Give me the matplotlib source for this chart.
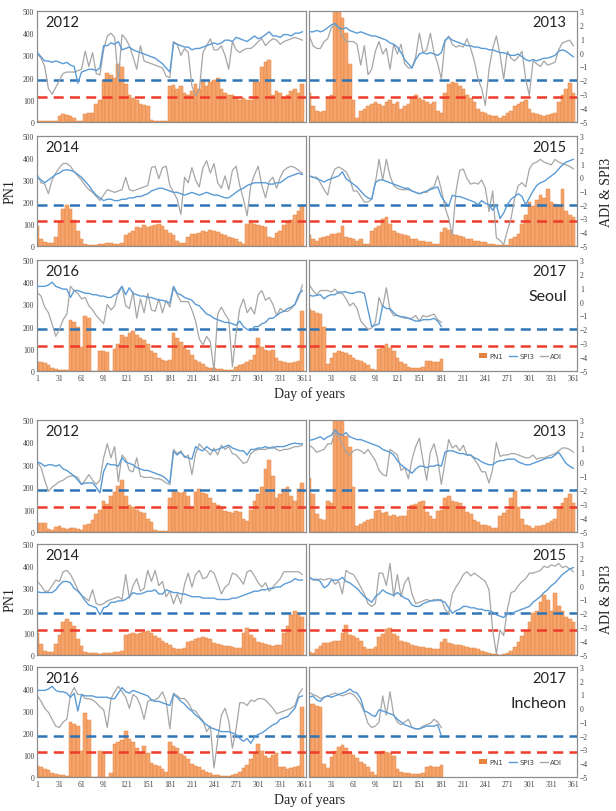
import numpy as np
import matplotlib.pyplot as plt
from matplotlib.patches import Patch
from matplotlib.lines import Line2D

# daily series every 5 days (day 1, 6, 11, ... 361)
days = np.arange(1, 366, 5)
xticks = list(range(1, 362, 30))
years = ['2012', '2013', '2014', '2015', '2016', '2017']

# ---------------- Seoul ----------------
seoul_2012_pn1 = [5, 5, 5, 3, 3, 5, 25, 35, 32, 28,
                  20, 5, 3, 35, 40, 40, 80, 100, 190, 220,
                  210, 200, 260, 250, 170, 120, 110, 100, 80, 75,
                  70, 10, 5, 3, 5, 3, 160, 165, 150, 160,
                  130, 120, 140, 170, 150, 190, 160, 180, 190, 200,
                  150, 130, 120, 120, 110, 100, 110, 100, 100, 190,
                  180, 250, 270, 280, 120, 140, 130, 110, 120, 140,
                  150, 130, 170]
seoul_2012_spi3 = [0.0, -0.3, -0.6, -0.6, -0.7, -0.6, -0.7, -0.8, -0.7, -0.9,
                   -1.0, -2.2, -1.4, -1.3, -1.2, -1.2, -1.3, -1.1, 0.5, 0.5,
                   0.7, 0.6, 0.8, 0.2, 0.3, 0.4, 0.2, 0.1, 0.0, -0.1,
                   -0.2, -0.3, -0.4, -0.6, -0.8, -1.1, -1.4, 0.7, 0.6, 0.5,
                   0.4, 0.4, 0.2, 0.3, 0.3, 0.4, 0.5, 0.6, 0.7, 0.6,
                   0.7, 0.9, 0.9, 0.8, 1.1, 1.0, 0.9, 0.8, 1.0, 1.2,
                   1.0, 1.1, 1.3, 1.5, 1.2, 1.2, 1.1, 1.3, 1.3, 1.2,
                   1.4, 1.4, 1.5]
seoul_2012_adi = [-0.1, -0.4, -1.0, -2.6, -3.0, -2.5, -2.0, -1.5, -1.4, -1.4,
                  -1.4, -1.3, -1.2, 0.1, -1.0, 0.0, -1.5, -1.6, 0.2, 1.2,
                  1.4, 1.1, -2.0, 1.3, 1.0, 0.5, -0.3, -1.2, 0.5, -0.6,
                  -0.7, -0.8, -0.9, -1.0, -1.1, -1.7, -1.8, 0.8, 0.6, -0.2,
                  0.3, 0.0, -2.4, -3.1, -2.7, 0.0, 0.5, 1.0, 0.2, 0.2,
                  0.5, -0.2, -1.2, 0.8, 0.2, 0.0, 0.2, 0.3, 0.3, 0.5,
                  0.8, 1.0, 0.5, 0.8, 1.0, 0.9, 0.6, 0.8, 0.9, 1.0,
                  1.1, 1.0, 0.9]

seoul_2013_pn1 = [130, 70, 50, 45, 50, 110, 120, 500, 500, 470,
                  400, 260, 100, 20, 50, 60, 70, 80, 90, 80,
                  70, 90, 100, 80, 90, 60, 70, 80, 110, 120,
                  110, 100, 90, 80, 90, 50, 40, 130, 170, 180,
                  175, 160, 150, 120, 110, 90, 60, 45, 40, 30,
                  25, 25, 20, 25, 40, 50, 70, 80, 90, 100,
                  60, 40, 35, 30, 25, 30, 35, 40, 90, 120,
                  150, 175, 130]
seoul_2013_spi3 = [1.5, 1.5, 1.6, 1.5, 1.6, 1.8, 2.0, 2.1, 1.8, 1.7,
                   1.8, 1.6, 1.5, 1.4, 1.5, 1.4, 1.3, 1.2, 1.2, 1.1,
                   1.0, 0.9, 0.7, 0.6, 0.4, 0.0, -0.5, -0.8, -1.1, -0.5,
                   -0.1, 0.0, -0.1, 0.0, -0.1, -0.2, 0.0, 0.9, 1.1, 0.9,
                   0.8, 0.7, 0.6, 0.5, 0.5, 0.4, 0.4, 0.3, 0.3, 0.2,
                   0.2, 0.1, 0.0, 0.0, -0.1, -0.2, -0.2, -0.1, -0.3, -0.5,
                   -0.6, -0.5, -0.6, -0.5, -0.4, -0.4, -0.3, -0.2, 0.1, 0.2,
                   0.1, -0.1, -0.3]
seoul_2013_adi = [1.2, 0.5, 0.3, 0.3, 0.8, 1.0, 1.8, 2.0, 1.8, 1.2,
                  0.8, 0.8, 0.8, 0.6, -0.9, 0.5, -1.6, -1.2, 0.1, 0.8,
                  -0.1, 0.3, -1.2, 0.6, -0.1, 0.6, -0.8, -1.1, -1.1, -0.3,
                  1.4, 0.0, 0.2, 1.4, 0.0, -0.8, -1.9, 0.8, 1.2, 0.6,
                  0.4, 0.5, 0.4, 1.0, 0.3, -0.6, -1.9, -2.6, -3.8, -1.2,
                  0.3, 1.2, -0.1, -1.9, 0.1, -0.4, -0.6, -0.3, 0.1, -1.9,
                  -3.1, -0.6, -0.8, -1.0, -0.6, -0.9, -0.8, -0.7, 0.2, 0.7,
                  0.8, 0.9, 0.5]

seoul_2014_pn1 = [90, 30, 20, 15, 15, 40, 110, 170, 185, 170,
                  120, 70, 30, 10, 5, 5, 5, 10, 10, 15,
                  15, 10, 10, 15, 50, 60, 70, 85, 80, 95,
                  85, 90, 95, 100, 90, 75, 60, 50, 25, 15,
                  15, 40, 55, 55, 60, 70, 65, 75, 70, 65,
                  55, 50, 40, 35, 30, 20, 10, 100, 105, 100,
                  95, 90, 85, 40, 35, 60, 70, 95, 110, 120,
                  140, 160, 180]
seoul_2014_spi3 = [0.0, -0.2, -0.4, -0.2, 0.0, 0.2, 0.3, 0.5, 0.55, 0.5,
                   0.4, 0.2, 0.0, -0.3, -0.6, -1.0, -1.3, -1.5, -1.7, -1.6,
                   -1.6, -1.7, -1.7, -1.6, -1.6, -1.5, -1.5, -1.4, -1.4, -1.3,
                   -1.2, -1.0, -0.9, -0.8, -0.8, -0.9, -1.0, -1.1, -1.1, -1.2,
                   -1.3, -1.2, -1.1, -1.2, -1.3, -1.2, -1.1, -1.2, -1.3, -1.3,
                   -1.4, -1.5, -1.5, -1.3, -1.1, -0.9, -0.8, -0.6, -0.5, -0.4,
                   -0.4, -0.4, -0.4, -0.5, -0.5, -0.4, -0.4, -0.2, 0.0, 0.1,
                   0.2, 0.3, 0.2]
seoul_2014_adi = [0.2, -0.4, -0.5, -1.2, -0.2, 0.3, 0.7, 1.0, 1.0, 0.8,
                  0.4, 0.1, -0.2, -0.6, -0.9, -1.1, -1.4, -1.7, -1.3, -0.9,
                  -1.0, -1.1, -1.0, -0.9, 0.0, -0.9, -1.0, -0.9, -0.8, -0.7,
                  -0.6, 0.7, 0.8, -0.1, 0.7, 0.8, -0.6, -1.1, -1.6, -2.7,
                  0.0, -0.4, 0.7, -0.2, -0.7, 0.7, 1.2, 0.3, 1.0, -0.4,
                  -0.8, 0.1, -0.9, 0.5, 0.8, -0.6, -1.6, -2.8, -0.6, 0.2,
                  0.8, -0.6, -1.5, -0.3, 0.0, -0.8, 0.0, 0.5, 0.7, 0.8,
                  0.7, 0.5, 0.3]

seoul_2015_pn1 = [50, 30, 25, 35, 40, 45, 55, 55, 60, 90,
                  40, 35, 30, 25, 30, 10, 8, 70, 80, 90,
                  125, 130, 100, 70, 60, 55, 50, 45, 30, 30,
                  25, 25, 20, 20, 10, 8, 65, 80, 75, 55,
                  50, 45, 40, 30, 30, 25, 25, 20, 20, 10,
                  10, 5, 5, 3, 3, 30, 40, 55, 100, 140,
                  200, 180, 210, 230, 220, 260, 200, 190, 180, 260,
                  160, 140, 130]
seoul_2015_spi3 = [0.1, 0.0, -0.1, -0.2, -0.35, -0.2, -0.1, 0.0, 0.1, 0.4,
                   -0.1, -0.3, -0.5, -0.7, -1.0, -1.3, -1.5, -1.6, -0.4, -0.2,
                   -0.2, -0.3, -0.4, -0.5, -0.6, -0.7, -0.8, -0.8, -1.0, -1.1,
                   -1.2, -1.1, -1.0, -0.9, -0.8, -0.7, -1.4, -1.8, -2.1, -1.3,
                   -1.4, -1.4, -1.5, -1.6, -1.7, -1.8, -2.0, -1.7, -1.9, -2.0,
                   -2.4, -2.0, -3.0, -2.6, -2.0, -1.6, -1.4, -1.2, -1.4, -2.0,
                   -1.5, -1.0, -0.6, -0.4, -0.3, -0.1, 0.1, 0.3, 0.6, 0.9,
                   1.1, 1.2, 1.3]
seoul_2015_adi = [0.1, 0.0, 0.0, -0.4, -0.9, -1.3, 0.0, 0.6, 0.75, 0.6,
                  0.4, -0.1, -1.0, -1.0, -1.4, -1.8, -1.8, -1.6, -0.4, 1.3,
                  -0.2, 1.3, 0.1, -0.6, -0.8, -0.9, -0.9, -0.9, -1.0, -1.1,
                  -1.2, -1.1, -1.1, -0.8, -0.7, 0.1, -0.9, -2.2, -3.0, -4.2,
                  -1.0, 0.5, 0.6, -0.1, -0.5, -0.4, -0.5, -0.2, -0.8, -2.5,
                  -1.0, -4.4, -4.6, -4.9, -3.9, -3.0, -1.5, -0.6, -0.4, -0.7,
                  0.6, 1.0, 1.1, 1.3, 1.1, 1.0, 0.9, 1.3, 1.1, 1.0,
                  0.9, 0.8, 0.6]

seoul_2016_pn1 = [40, 40, 35, 25, 15, 10, 5, 3, 3, 230,
                  220, 200, 110, 250, 240, 0, 0, 90, 90, 85,
                  0, 100, 120, 160, 155, 170, 180, 160, 150, 140,
                  120, 90, 80, 60, 50, 45, 50, 170, 150, 130,
                  110, 95, 70, 50, 40, 30, 20, 15, 15, 10,
                  10, 5, 5, 3, 20, 25, 30, 40, 50, 70,
                  150, 110, 95, 90, 95, 60, 45, 40, 35, 35,
                  40, 45, 270]
seoul_2016_spi3 = [1.1, 1.1, 1.1, 1.2, 1.4, 1.1, 1.0, 0.9, 0.9, 0.3,
                   0.8, 0.8, 0.7, 0.6, 0.6, 0.5, 0.5, 0.4, 0.4, 0.3,
                   0.3, 0.5, 0.6, 1.1, 0.5, 1.0, 0.6, 0.5, 0.4, 0.4,
                   0.3, 0.3, 0.2, 0.1, 0.1, 0.0, -0.1, 1.1, 0.6, 0.5,
                   0.3, 0.2, 0.1, -0.2, -0.3, -0.6, -0.9, -1.0, -1.2, -1.3,
                   -1.4, -1.5, -1.5, -1.6, -1.7, -1.4, -1.8, -2.0, -2.1, -1.8,
                   -1.8, -1.6, -1.5, -1.2, -1.2, -1.0, -0.8, -0.7, -0.5, -0.4,
                   -0.2, 0.5, 0.8]
seoul_2016_adi = [0.65, 0.4, -0.4, -0.8, -1.6, -2.5, -2.0, -1.3, -0.9, 1.1,
                  0.8, 0.6, 0.2, 0.3, -0.3, -0.6, -1.0, -1.3, -1.6, -0.2,
                  -0.6, -0.3, 0.8, 1.1, -0.3, -0.5, 0.7, -1.2, 0.2, -0.8,
                  0.6, -0.6, -0.7, 0.2, -0.8, 0.1, -0.4, 1.0, 0.5, 0.0,
                  0.0, 0.0, -0.6, -1.4, -2.7, -3.1, -2.5, -2.9, -5.0, -0.9,
                  -0.4, -0.9, -1.3, -4.7, -2.3, -0.5, 0.2, -0.8, -0.4, -0.9,
                  0.5, 0.8, 0.1, 0.3, -0.2, -1.0, -0.5, -0.7, -0.7, -0.5,
                  -0.2, 0.3, 1.2]

seoul_2017_pn1 = [280, 270, 260, 255, 200, 30, 60, 80, 90, 85,
                  80, 70, 60, 50, 45, 35, 25, 10, 5, 100,
                  110, 120, 105, 90, 60, 40, 30, 20, 15, 15,
                  15, 20, 45, 45, 40, 40, 55]
seoul_2017_spi3 = [0.45, 0.4, 0.45, 0.5, 0.2, 0.4, 0.5, 0.5, 0.7, 0.7,
                   0.7, 0.6, 0.6, 0.7, 0.7, 0.6, -0.6, -1.8, -1.7, -1.6,
                   -0.3, -0.5, -0.5, -0.8, -1.0, -1.1, -1.1, -1.2, -1.3, -1.4,
                   -1.4, -1.3, -1.3, -1.3, -1.2, -1.4, -1.8]
seoul_2017_adi = [1.2, 0.8, 0.5, 0.8, 0.8, 0.8, 0.7, 0.9, 0.6, 0.6,
                  0.2, -0.3, -0.1, -0.5, -1.4, -1.7, -2.0, -1.9, -1.5, 0.3,
                  -0.4, 1.0, -0.6, -1.0, -1.0, -1.1, -1.2, -1.2, -1.2, -1.0,
                  -1.4, -1.0, -1.1, -1.0, -0.9, -1.3, -1.5]

# ---------------- Incheon ----------------
incheon_2012_pn1 = [40, 40, 38, 15, 10, 22, 25, 20, 15, 18,
                    20, 12, 8, 30, 35, 55, 80, 100, 140, 125,
                    160, 180, 205, 230, 160, 120, 110, 100, 90, 85,
                    60, 45, 10, 5, 3, 3, 150, 185, 180, 175,
                    180, 160, 110, 180, 190, 175, 170, 150, 130, 120,
                    110, 95, 90, 85, 95, 90, 60, 50, 100, 140,
                    170, 200, 280, 320, 250, 150, 170, 190, 200, 160,
                    140, 190, 220]
incheon_2012_spi3 = [0.0, -0.1, -0.3, -0.2, -0.2, -0.3, -0.2, -0.5, -0.6, -0.8,
                     -1.0, -1.3, -1.6, -1.5, -1.5, -1.5, -1.8, -2.2, -0.7, -0.1,
                     -0.2, -0.2, -0.3, 0.3, 0.0, -0.1, -0.2, -0.4, -0.5, -0.6,
                     -0.6, -0.7, -0.8, -0.9, -1.0, -1.2, -1.5, 0.75, 0.5, 0.7,
                     0.4, 0.3, 0.2, 1.1, 0.9, 0.8, 1.1, 0.9, 0.8, 0.9,
                     1.0, 1.1, 1.2, 1.0, 0.9, 0.8, 0.8, 0.5, 0.9, 0.9,
                     1.0, 1.0, 1.1, 1.0, 1.0, 1.1, 1.1, 1.1, 1.2, 1.3,
                     1.35, 1.3, 1.3]
incheon_2012_adi = [0.0, -0.4, -1.3, -2.1, -1.8, -1.6, -1.4, -1.3, -1.1, -1.0,
                    -1.0, -1.1, -1.6, -1.3, -0.9, -1.3, -1.6, -1.3, 0.3, 1.3,
                    0.3, 1.1, -1.4, 0.5, 0.2, -0.6, -0.7, 0.3, -1.0, -1.1,
                    -1.1, -1.1, -1.2, -1.2, -1.3, -1.5, -1.6, 0.9, 0.6, 0.8,
                    0.3, 0.5, -0.9, 0.6, 1.3, 1.0, 0.8, 0.5, 1.0, 0.5,
                    1.2, 0.9, 1.1, 0.6, 0.5, 0.2, -0.1, 0.0, 0.6, 0.8,
                    0.9, 0.9, 0.9, 1.0, 1.1, 0.9, 0.8, 0.9, 0.9, 1.0,
                    1.1, 1.1, 1.2]

incheon_2013_pn1 = [240, 170, 80, 60, 55, 140, 130, 500, 500, 500,
                    430, 380, 200, 25, 35, 45, 55, 60, 95, 100,
                    85, 90, 70, 75, 65, 70, 70, 100, 120, 125,
                    135, 140, 90, 70, 60, 95, 100, 150, 160, 140,
                    135, 130, 110, 90, 80, 55, 45, 30, 30, 25,
                    20, 20, 70, 85, 100, 150, 185, 110, 60, 30,
                    25, 20, 25, 25, 30, 40, 50, 60, 110, 130,
                    150, 170, 130]
incheon_2013_spi3 = [1.55, 1.6, 1.7, 1.8, 1.6, 1.8, 1.9, 2.3, 2.0, 1.9,
                     2.1, 1.8, 1.7, 1.6, 1.6, 1.5, 1.4, 1.3, 1.2, 1.1,
                     0.9, 0.8, 0.7, 0.5, 0.1, -0.2, -0.4, -0.6, -0.8, -0.5,
                     -0.3, -0.3, -0.4, -0.3, -0.3, -0.2, -0.3, 0.7, 0.8, 0.8,
                     0.7, 0.6, 0.6, 0.5, 0.5, 0.3, 0.2, 0.0, -0.1, -0.2,
                     -0.2, 0.0, 0.1, 0.1, 0.2, 0.2, 0.2, 0.0, -0.1, -0.2,
                     -0.2, -0.1, 0.0, 0.1, 0.2, 0.3, 0.3, 0.5, 0.7, 0.3,
                     -0.1, -0.3, -0.45]
incheon_2013_adi = [1.2, 1.0, 0.7, 0.8, 0.9, 1.3, 1.3, 2.1, 1.8, 1.3,
                    0.7, 0.5, 0.8, 0.9, 0.8, 0.6, 0.9, 0.5, 0.1, -0.6,
                    -0.9, -1.0, 0.9, 0.7, 0.5, -0.6, -0.4, -1.2, 0.2, 1.1,
                    1.7, 0.1, -1.3, 0.7, 1.3, 0.2, -1.6, 0.0, 1.6, 1.0,
                    1.2, 0.8, 1.2, 0.5, 0.5, 0.2, -0.2, -0.7, -0.7, -1.5,
                    -0.5, 1.4, 0.4, 0.5, 0.5, 0.6, 0.6, 0.5, 0.4, 0.3,
                    0.3, 0.5, 0.2, 0.3, 0.3, 0.4, 0.5, 0.6, 0.8, 1.0,
                    1.0, 0.9, 0.7]

incheon_2014_pn1 = [100, 50, 20, 15, 15, 50, 90, 150, 160, 150,
                    130, 70, 40, 15, 10, 8, 8, 5, 10, 10,
                    8, 12, 15, 20, 90, 95, 100, 95, 100, 105,
                    110, 100, 85, 75, 65, 55, 45, 30, 25, 25,
                    30, 60, 65, 70, 75, 80, 75, 70, 55, 50,
                    45, 40, 40, 35, 30, 30, 100, 120, 90, 75,
                    60, 55, 50, 45, 40, 45, 45, 100, 130, 180,
                    200, 190, 170]
incheon_2014_spi3 = [-0.45, -0.5, -0.5, -0.5, -0.5, -0.3, 0.05, 0.3, 0.3, 0.2,
                     -0.2, -0.4, -0.7, -1.1, -1.4, -1.5, -1.6, -2.1, -1.6, -1.5,
                     -1.2, -1.2, -1.1, -1.1, -1.0, -0.8, -0.5, -0.6, -0.6, -0.5,
                     -0.4, -0.4, -0.3, -0.6, -0.6, -0.3, -0.4, -0.5, -0.5, -0.6,
                     -0.6, -0.7, -0.8, -0.8, -0.8, -0.9, -0.9, -0.9, -0.9, -1.0,
                     -1.0, -1.0, -1.0, -0.9, -0.9, -0.8, -0.7, -0.6, -0.5, -0.4,
                     -0.4, -0.3, -0.3, -0.2, -0.2, -0.1, -0.1, 0.1, 0.2, 0.3,
                     0.5, 0.4, 0.4]
incheon_2014_adi = [0.3, 0.0, -0.4, -0.4, 0.0, 0.4, 0.3, 1.0, 1.1, 0.8,
                    0.3, -0.3, -0.7, -0.9, -1.1, -0.3, -1.3, -1.4, -1.3, -1.1,
                    -1.0, -0.9, -0.8, -1.0, 0.8, -0.9, 0.0, 0.5, -0.4, -0.2,
                    1.1, 0.3, 1.1, 0.0, 0.3, -0.8, -0.4, -1.3, -0.6, -1.3,
                    0.1, 0.9, -0.1, 0.8, 1.1, 0.5, 0.6, 1.1, 0.9, 0.2,
                    -0.6, -0.1, 0.1, 0.9, 0.8, 0.5, 0.1, 1.0, 1.1, 0.7,
                    0.2, -0.1, 0.2, -0.4, -0.1, 0.2, 0.5, 1.0, 1.0, 1.0,
                    1.0, 1.0, 0.8]

incheon_2015_pn1 = [15, 10, 25, 40, 55, 55, 60, 65, 65, 100,
                    135, 90, 85, 75, 65, 35, 25, 25, 35, 80,
                    95, 115, 120, 95, 85, 65, 60, 55, 45, 40,
                    35, 35, 30, 30, 25, 25, 60, 70, 55, 50,
                    45, 45, 40, 35, 30, 30, 25, 20, 15, 10,
                    5, 3, 2, 3, 8, 20, 35, 60, 85, 110,
                    150, 190, 200, 240, 270, 250, 200, 280, 220, 200,
                    170, 160, 150]
incheon_2015_spi3 = [0.55, 0.45, 0.45, 0.3, -0.15, 0.0, 0.4, 0.4, 0.4, 0.6,
                     0.3, 0.2, 0.0, -0.2, -0.5, -0.8, -1.0, -1.2, -0.8, -0.6,
                     -0.3, -0.5, -0.6, -0.7, -0.5, -0.7, -0.9, -1.0, -1.4, -1.5,
                     -1.5, -1.3, -1.2, -1.1, -1.1, -1.0, -1.1, -1.2, -1.6, -2.0,
                     -1.8, -1.7, -1.5, -1.5, -1.6, -1.6, -1.7, -1.7, -1.8, -1.8,
                     -1.9, -2.1, -2.2, -2.3, -2.0, -2.1, -1.9, -1.8, -1.7, -1.6,
                     -1.5, -1.2, -1.0, -0.8, -0.5, -0.3, 0.0, 0.2, 0.5, 0.8,
                     1.0, 1.2, 1.3]
incheon_2015_adi = [0.65, 0.4, 0.4, 0.5, 0.4, 0.5, 0.5, 0.1, 0.3, -0.6,
                    1.1, 0.9, 0.8, 0.4, -0.1, -0.6, -1.3, -1.5, -1.3, 0.9,
                    0.9, 0.0, 1.6, -0.8, 0.8, -0.8, 0.2, 0.6, -0.6, -1.3,
                    -1.2, -1.1, -1.0, -1.1, -1.0, -1.1, -1.0, -1.7, -2.0, -0.6,
                    -0.1, 0.3, 0.8, 1.0, 0.7, 0.9, 0.7, 0.5, 0.3, -0.3,
                    -3.2, -4.9, -3.2, -3.6, -1.7, -0.5, -0.4, 0.0, 0.3, 0.5,
                    0.9, 0.9, 1.0, 1.1, 1.4, 1.3, 1.5, 1.4, 1.6, 1.3,
                    1.4, 1.2, 1.0]

incheon_2016_pn1 = [50, 45, 35, 30, 20, 15, 10, 8, 5, 250,
                    240, 230, 120, 290, 260, 0, 0, 120, 115, 0,
                    20, 150, 160, 170, 210, 175, 160, 130, 110, 140,
                    110, 65, 55, 50, 35, 25, 160, 140, 130, 105,
                    95, 80, 60, 50, 45, 30, 25, 20, 10, 8,
                    5, 5, 5, 8, 12, 25, 40, 55, 80, 110,
                    150, 120, 95, 85, 100, 110, 45, 45, 35, 40,
                    45, 50, 320]
incheon_2016_spi3 = [1.3, 1.3, 1.3, 1.4, 1.6, 1.3, 1.2, 1.2, 1.1, 0.8,
                     1.1, -0.2, 1.0, 0.9, 0.9, 0.9, 0.8, 0.8, 0.8, 0.8,
                     0.7, 0.7, 1.1, 1.5, 1.2, 1.1, 1.3, 1.2, 1.1, 1.0,
                     0.9, 0.6, 0.5, 0.5, 0.4, 0.3, 0.2, 1.0, 0.8, 0.5,
                     0.3, 0.0, -0.2, -0.5, -0.7, -1.0, -1.2, -1.4, -1.5, -1.6,
                     -1.7, -1.7, -1.7, -1.8, -1.9, -2.2, -2.4, -2.2, -2.55, -2.1,
                     -1.9, -1.8, -1.6, -1.4, -1.2, -1.1, -0.8, -0.7, -0.6, -0.3,
                     0.0, 0.8, 0.9]
incheon_2016_adi = [0.9, 0.5, 0.0, -0.3, -0.8, -1.3, -1.4, -1.0, -0.8, 1.0,
                    1.5, 1.0, 1.0, 0.7, 0.7, 0.6, 0.4, 0.1, -0.1, -1.4,
                    0.7, 1.2, 1.6, 1.2, 0.8, 0.0, 1.0, 0.8, 0.2, -0.8,
                    0.5, 0.6, 0.6, 0.8, 1.2, 0.5, -1.5, 1.1, 0.9, 0.7,
                    0.7, 0.4, -0.1, -0.2, -0.6, -0.9, -1.7, -1.3, -4.35, -2.3,
                    -0.5, 0.0, -0.9, -2.9, -1.5, 0.4, 0.4, 0.2, 0.6, 0.5,
                    0.7, 0.7, 0.6, 0.3, 0.0, -0.4, -0.3, -0.2, -0.1, 0.0,
                    0.2, 1.0, 1.4]

incheon_2017_pn1 = [330, 330, 325, 320, 60, 40, 90, 120, 135, 145,
                    130, 115, 100, 85, 70, 60, 45, 25, 10, 115,
                    120, 115, 110, 95, 35, 25, 20, 20, 15, 15,
                    15, 20, 45, 50, 45, 45, 55]
incheon_2017_spi3 = [0.8, 0.9, 0.6, 0.5, 0.8, 0.9, 0.8, 0.9, 1.0, 1.1,
                     1.2, 1.4, 1.2, 1.1, 0.7, -0.2, -0.3, -0.5, -0.6, -0.1,
                     -0.2, -0.3, -0.4, -0.5, -0.8, -1.0, -1.2, -1.3, -1.4, -1.5,
                     -1.5, -1.4, -1.3, -1.3, -1.3, -1.2, -2.0]
incheon_2017_adi = [1.15, 1.0, 0.9, 0.7, 0.8, 0.9, 1.0, 1.1, 1.0, 0.9,
                    1.0, 1.1, 1.0, 0.7, 0.3, -0.3, -1.1, -1.4, -1.3, -1.0,
                    0.9, -0.5, 1.2, -0.5, -1.0, -1.2, -1.0, -0.8, -1.4, -1.5,
                    -1.5, -1.3, -1.2, -1.1, -0.8, -1.0, -1.4]

# drought thresholds on the ADI & SPI3 axis
spi_threshold = -2.0
pn1_threshold = -3.2

series = {
    'Seoul': [
        (seoul_2012_pn1, seoul_2012_spi3, seoul_2012_adi),
        (seoul_2013_pn1, seoul_2013_spi3, seoul_2013_adi),
        (seoul_2014_pn1, seoul_2014_spi3, seoul_2014_adi),
        (seoul_2015_pn1, seoul_2015_spi3, seoul_2015_adi),
        (seoul_2016_pn1, seoul_2016_spi3, seoul_2016_adi),
        (seoul_2017_pn1, seoul_2017_spi3, seoul_2017_adi),
    ],
    'Incheon': [
        (incheon_2012_pn1, incheon_2012_spi3, incheon_2012_adi),
        (incheon_2013_pn1, incheon_2013_spi3, incheon_2013_adi),
        (incheon_2014_pn1, incheon_2014_spi3, incheon_2014_adi),
        (incheon_2015_pn1, incheon_2015_spi3, incheon_2015_adi),
        (incheon_2016_pn1, incheon_2016_spi3, incheon_2016_adi),
        (incheon_2017_pn1, incheon_2017_spi3, incheon_2017_adi),
    ],
}

bad = [(c, i) for c in series for i, s in enumerate(series[c])
       if not (len(s[0]) == len(s[1]) == len(s[2]))]
if bad:
    raise ValueError(f'length mismatch {bad}')

W, H = 616, 812
fig = plt.figure(figsize=(W / 100, H / 100), dpi=100)

cols = [(37, 306), (309, 577)]
rows = {'Seoul': [(12, 123), (137, 247), (261, 372)],
        'Incheon': [(421, 533), (545, 656), (668, 778)]}

bar_color = '#F4A46C'
bar_edge = '#E4843E'
spi_color = '#5B9BD5'
adi_color = '#A6A6A6'
spine_color = '#8C8C8C'
label_color = '#404040'
tick_font = 'Liberation Serif'
title_font = 'Lato'

for city in ['Seoul', 'Incheon']:
    for k, (pn1, spi3, adi) in enumerate(series[city]):
        r, c = divmod(k, 2)
        x0, x1 = cols[c]
        y0, y1 = rows[city][r]
        ax = fig.add_axes([x0 / W, 1 - y1 / H, (x1 - x0) / W, (y1 - y0) / H])
        d = days[:len(pn1)]
        ax.bar(d, pn1, width=5, color=bar_color, edgecolor=bar_edge,
               linewidth=0.35, label='PN1')
        ax.set_xlim(0.5, 366)
        ax.set_ylim(0, 500)
        ax.set_yticks(range(0, 501, 100))
        ax.set_xticks(xticks)

        ax2 = ax.twinx()
        ax2.set_ylim(-5, 3)
        ax2.set_yticks(range(-5, 4))
        ax2.axhline(spi_threshold, color='#2E75B6', lw=1.8,
                    ls=(0, (4, 2.5)), zorder=1)
        ax2.axhline(pn1_threshold, color='#EE3B2B', lw=1.8,
                    ls=(0, (4, 2.5)), zorder=1)
        ax2.plot(d, spi3, color=spi_color, lw=1.0, zorder=3, label='SPI3')
        ax2.plot(d, adi, color=adi_color, lw=0.9, zorder=2, label='ADI')

        for a in (ax, ax2):
            a.tick_params(length=0, labelsize=5.5, labelcolor=label_color,
                          pad=2)
            for sp in a.spines.values():
                sp.set_color(spine_color)
                sp.set_linewidth(0.8)
            for t in a.get_xticklabels() + a.get_yticklabels():
                t.set_fontfamily(tick_font)
        ax.tick_params(labelleft=(c == 0), labelbottom=(r == 2))
        ax2.tick_params(labelright=(c == 1))

        year = years[k]
        if c == 0:
            ax.text(0.03, 0.9, year, transform=ax.transAxes, ha='left',
                    va='center', fontsize=10.5, family=title_font,
                    color='#222222')
        else:
            ax.text(0.962, 0.9, year, transform=ax.transAxes, ha='right',
                    va='center', fontsize=10.5, family=title_font,
                    color='#222222')
        if k == 5:
            ax.text(0.962, 0.675, city, transform=ax.transAxes, ha='right',
                    va='center', fontsize=11.5, family=title_font,
                    color='#222222')
            handles = [Patch(facecolor=bar_edge, edgecolor='none'),
                       Line2D([], [], color=spi_color, lw=1.0),
                       Line2D([], [], color=adi_color, lw=1.0)]
            leg = ax2.legend(handles, ['PN1', 'SPI3', 'ADI'], ncol=3,
                             loc='center', bbox_to_anchor=(0.79, 0.135),
                             frameon=False, fontsize=5, handlelength=1.2,
                             handleheight=0.7, handletextpad=0.3,
                             columnspacing=0.8)
            for t in leg.get_texts():
                t.set_color(label_color)

    top = rows[city][0][0]
    bottom = rows[city][2][1]
    yc = 1 - (top + bottom) / 2 / H
    fig.text(10 / W, yc, 'PN1', rotation=90, ha='center', va='center',
             fontsize=10, family='Liberation Serif', color='#222222')
    fig.text(607 / W, yc, 'ADI & SPI3', rotation=90, ha='center',
             va='center', fontsize=10, family='Liberation Serif',
             color='#222222')
    fig.text(310 / W, 1 - (bottom + 22) / H, 'Day of years', ha='center',
             va='center', fontsize=10, family='Liberation Serif',
             color='#222222')

fig.savefig('out.png', dpi=100)
